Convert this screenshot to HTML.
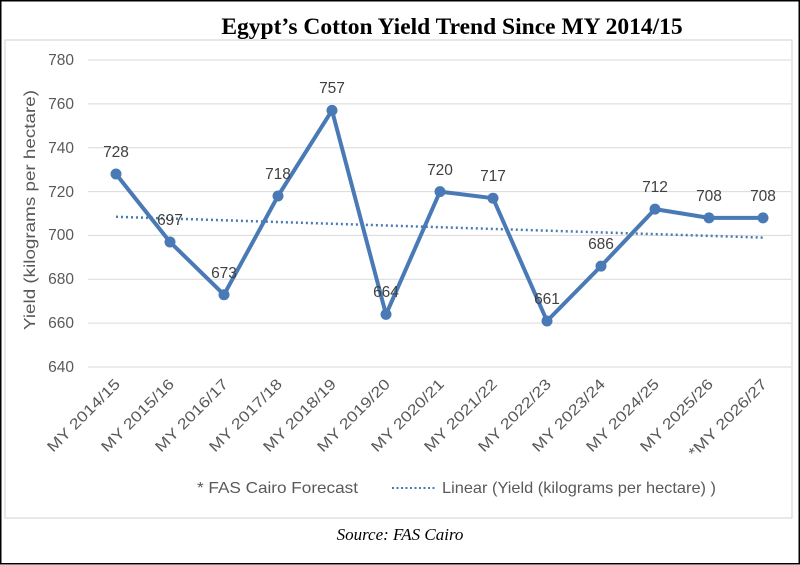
<!DOCTYPE html>
<html><head><meta charset="utf-8"><style>body{margin:0;background:#fff}svg{display:block}</style></head><body>
<svg width="800" height="565" xmlns="http://www.w3.org/2000/svg" font-family="Liberation Sans, sans-serif">
<rect x="0.75" y="0.75" width="798.5" height="563" fill="#fff" stroke="#000" stroke-width="1.5"/>
<rect x="5" y="40" width="787" height="478" fill="none" stroke="#d9d9d9" stroke-width="1.2"/>
<text x="452" y="34" text-anchor="middle" font-family="Liberation Serif, serif" font-weight="bold" font-size="23.5" fill="#000">Egypt’s Cotton Yield Trend Since MY 2014/15</text>
<g stroke="#d9d9d9" stroke-width="1">
<line x1="88" x2="791" y1="60" y2="60"/><line x1="88" x2="791" y1="103.9" y2="103.9"/><line x1="88" x2="791" y1="147.7" y2="147.7"/><line x1="88" x2="791" y1="191.6" y2="191.6"/><line x1="88" x2="791" y1="235.4" y2="235.4"/><line x1="88" x2="791" y1="279.3" y2="279.3"/><line x1="88" x2="791" y1="323.1" y2="323.1"/><line x1="88" x2="791" y1="367" y2="367"/>
</g>
<g font-size="15.5" fill="#595959" text-anchor="end">
<text x="74" y="65">780</text><text x="74" y="109">760</text><text x="74" y="153">740</text><text x="74" y="197">720</text><text x="74" y="240">700</text><text x="74" y="284">680</text><text x="74" y="328">660</text><text x="74" y="372">640</text>
</g>
<text transform="translate(35,210) rotate(-90)" text-anchor="middle" font-size="16" fill="#595959" textLength="240" lengthAdjust="spacingAndGlyphs">Yield (kilograms per hectare)</text>
<line x1="116" y1="216.8" x2="763" y2="237.6" stroke="#4a7ab5" stroke-width="2.5" stroke-dasharray="2,3"/>
<polyline fill="none" stroke="#4a7ab5" stroke-width="4" stroke-linejoin="round" points="116,174 170,242 224,294.7 278,196 332,110.4 386,314.4 440,191.6 493,198.2 547,321 601,266.1 655,209.1 709,217.9 763,217.9"/>
<g fill="#4a7ab5">
<circle cx="116" cy="174" r="5.5"/><circle cx="170" cy="242" r="5.5"/><circle cx="224" cy="294.7" r="5.5"/><circle cx="278" cy="196" r="5.5"/><circle cx="332" cy="110.4" r="5.5"/><circle cx="386" cy="314.4" r="5.5"/><circle cx="440" cy="191.6" r="5.5"/><circle cx="493" cy="198.2" r="5.5"/><circle cx="547" cy="321" r="5.5"/><circle cx="601" cy="266.1" r="5.5"/><circle cx="655" cy="209.1" r="5.5"/><circle cx="709" cy="217.9" r="5.5"/><circle cx="763" cy="217.9" r="5.5"/>
</g>
<g font-size="15.5" fill="#404040" text-anchor="middle">
<text x="116" y="157">728</text><text x="170" y="225">697</text><text x="224" y="278">673</text><text x="278" y="179">718</text><text x="332" y="93">757</text><text x="386" y="297">664</text><text x="440" y="175">720</text><text x="493" y="181">717</text><text x="547" y="304">661</text><text x="601" y="249">686</text><text x="655" y="192">712</text><text x="709" y="201">708</text><text x="763" y="201">708</text>
</g>
<g font-size="15" fill="#595959" text-anchor="end">
<text transform="translate(121,385) rotate(-45)" textLength="96" lengthAdjust="spacingAndGlyphs">MY 2014/15</text>
<text transform="translate(175,385) rotate(-45)" textLength="96" lengthAdjust="spacingAndGlyphs">MY 2015/16</text>
<text transform="translate(229,385) rotate(-45)" textLength="96" lengthAdjust="spacingAndGlyphs">MY 2016/17</text>
<text transform="translate(283,385) rotate(-45)" textLength="96" lengthAdjust="spacingAndGlyphs">MY 2017/18</text>
<text transform="translate(337,385) rotate(-45)" textLength="96" lengthAdjust="spacingAndGlyphs">MY 2018/19</text>
<text transform="translate(391,385) rotate(-45)" textLength="96" lengthAdjust="spacingAndGlyphs">MY 2019/20</text>
<text transform="translate(445,385) rotate(-45)" textLength="96" lengthAdjust="spacingAndGlyphs">MY 2020/21</text>
<text transform="translate(498,385) rotate(-45)" textLength="96" lengthAdjust="spacingAndGlyphs">MY 2021/22</text>
<text transform="translate(552,385) rotate(-45)" textLength="96" lengthAdjust="spacingAndGlyphs">MY 2022/23</text>
<text transform="translate(606,385) rotate(-45)" textLength="96" lengthAdjust="spacingAndGlyphs">MY 2023/24</text>
<text transform="translate(660,385) rotate(-45)" textLength="96" lengthAdjust="spacingAndGlyphs">MY 2024/25</text>
<text transform="translate(714,385) rotate(-45)" textLength="96" lengthAdjust="spacingAndGlyphs">MY 2025/26</text>
<text transform="translate(768,385) rotate(-45)" textLength="104" lengthAdjust="spacingAndGlyphs">*MY 2026/27</text>
</g>
<text x="197" y="493" font-size="16" fill="#595959" textLength="161" lengthAdjust="spacingAndGlyphs">* FAS Cairo Forecast</text>
<line x1="392" y1="488" x2="436" y2="488" stroke="#4a7ab5" stroke-width="2" stroke-dasharray="2,2.5"/>
<text x="442" y="493" font-size="16" fill="#595959" textLength="274" lengthAdjust="spacingAndGlyphs">Linear (Yield (kilograms per hectare) )</text>
<text x="400" y="540" text-anchor="middle" font-family="Liberation Serif, serif" font-style="italic" font-size="17" fill="#000">Source: FAS Cairo</text>
</svg>
</body></html>
